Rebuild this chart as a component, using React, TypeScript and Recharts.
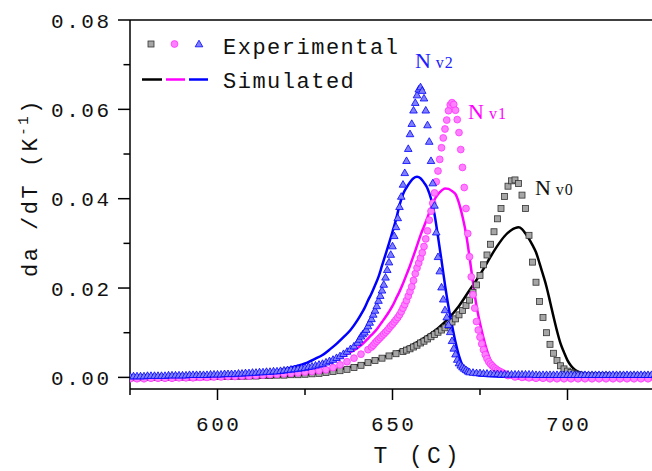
import { ComposedChart, Line, Scatter, XAxis, YAxis, ReferenceLine, ReferenceDot } from 'recharts';

type Pt = [number, number];

// experimental points, T (C) vs da/dT (K^-1)
const nv0Exp: Pt[] = [
  [575, -0.0001], [577, -0.0001], [579, 0], [581, 0], [583, 0], [585, 0], [587, 0.0001], [589, 0.0001],
  [591, 0.0001], [593, 0.0001], [595, 0.0002], [597, 0.0002], [599, 0.0002], [601, 0.0002], [603, 0.0002],
  [605, 0.0003], [607, 0.0003], [609, 0.0003], [611, 0.0003], [613, 0.0004], [615, 0.0004], [617, 0.0005],
  [619, 0.0005], [621, 0.0006], [623, 0.0006], [625, 0.0007], [627, 0.0008], [629, 0.0009], [631, 0.0011],
  [633, 0.0013], [635, 0.0015], [637, 0.0018], [639, 0.0022], [641, 0.0027], [643, 0.0033], [645, 0.0038],
  [647, 0.0043], [649, 0.0048], [651, 0.0053], [653, 0.0058],
  [654, 0.0061], [655, 0.0064], [656, 0.0068], [657, 0.0072], [658, 0.0077], [659, 0.0081], [660, 0.0086],
  [661, 0.0091], [662, 0.0096], [663, 0.0101], [664, 0.0106], [665, 0.0111], [666, 0.0117], [667, 0.0124],
  [668, 0.0131], [669, 0.014], [670, 0.015], [671, 0.0161], [672, 0.0173], [673, 0.019], [674, 0.0207],
  [675, 0.0228], [676, 0.0252], [677, 0.0274], [678, 0.0298], [679, 0.0326], [680, 0.0355], [681, 0.0378],
  [682, 0.0405], [683, 0.0428], [684, 0.044], [685, 0.0442], [686, 0.0434], [687, 0.0408], [688, 0.0378],
  [689, 0.0318], [690, 0.0258], [691, 0.0213], [692, 0.017], [693, 0.0134], [694, 0.01], [695, 0.0074],
  [696, 0.0054], [697, 0.0038], [698, 0.0026], [699, 0.0019], [700, 0.0014], [701, 0.0011], [702, 0.0008],
  [703, 0.0006], [704, 0.0005], [705, 0.0004],
  [707, 0.0004], [709, 0.0004], [711, 0.0004], [713, 0.0003], [715, 0.0003], [717, 0.0003], [719, 0.0003],
  [721, 0.0003], [723, 0.0003], [725, 0.0003],
];

const nv1Exp: Pt[] = [
  [575, -0.0003], [577, -0.0003], [579, -0.0003], [581, -0.0002], [583, -0.0002], [585, -0.0002],
  [587, -0.0002], [589, -0.0001], [591, -0.0001], [593, -0.0001], [595, 0], [597, 0], [599, 0.0001],
  [601, 0.0001], [603, 0.0002], [605, 0.0002], [607, 0.0003], [609, 0.0003], [611, 0.0004], [613, 0.0005],
  [615, 0.0006], [617, 0.0007], [619, 0.0008], [621, 0.0009], [623, 0.001], [625, 0.0012], [627, 0.0013],
  [629, 0.0015], [631, 0.0017], [633, 0.0022], [635, 0.0028], [637, 0.0035], [639, 0.0043], [641, 0.0052],
  [643, 0.0062],
  [644, 0.0068], [644.5, 0.0072], [645, 0.0077], [645.5, 0.0081], [646, 0.0085], [646.5, 0.0089],
  [647, 0.0093], [647.5, 0.0097], [648, 0.0101], [648.5, 0.0105], [649, 0.011], [649.5, 0.0115],
  [650, 0.0119], [650.5, 0.0124], [651, 0.0129], [651.5, 0.0134], [652, 0.014], [652.5, 0.0147],
  [653, 0.0155], [653.5, 0.0163], [654, 0.0172], [654.5, 0.0182], [655, 0.0192], [655.5, 0.0203],
  [656, 0.0217], [656.5, 0.0232], [657, 0.0245], [657.5, 0.0256], [658, 0.0267], [658.5, 0.0279],
  [659, 0.0293], [659.5, 0.031], [660, 0.0328], [660.5, 0.0352], [661, 0.0372], [661.5, 0.039],
  [662, 0.0413], [662.5, 0.0438], [663, 0.0462], [663.5, 0.0488], [664, 0.0514], [664.5, 0.0536],
  [665, 0.0556], [665.5, 0.0576], [666, 0.0597], [666.5, 0.061], [667, 0.0615], [667.5, 0.0611],
  [668, 0.0598], [668.5, 0.0577], [669, 0.0548], [669.5, 0.051], [670, 0.047], [670.5, 0.0425],
  [671, 0.0378], [671.5, 0.0322], [672, 0.027], [672.5, 0.0225], [673, 0.0185], [673.5, 0.0155],
  [674, 0.0125], [674.5, 0.0106], [675, 0.009], [675.5, 0.0075], [676, 0.0062], [676.5, 0.0051],
  [677, 0.0042], [677.5, 0.0035], [678, 0.003], [678.5, 0.0026], [679, 0.0022], [679.5, 0.0019],
  [680, 0.0016], [680.5, 0.0014], [681, 0.0012], [681.5, 0.001], [682, 0.0008], [682.5, 0.0006],
  [683, 0.0004],
  [685, 0.0001], [687, 0], [689, -0.0001], [691, -0.0002], [693, -0.0002], [695, -0.0003], [697, -0.0003],
  [699, -0.0003], [701, -0.0003], [703, -0.0003], [705, -0.0003], [707, -0.0003], [709, -0.0003],
  [711, -0.0003], [713, -0.0003], [715, -0.0003], [717, -0.0003], [719, -0.0003], [721, -0.0003],
  [723, -0.0003], [725, -0.0003],
];

const nv2Exp: Pt[] = [
  [575, 0.0003], [576, 0.0003], [577, 0.0003], [578, 0.0003], [579, 0.0003], [580, 0.0004], [581, 0.0004],
  [582, 0.0004], [583, 0.0004], [584, 0.0004], [585, 0.0004], [586, 0.0005], [587, 0.0005], [588, 0.0005],
  [589, 0.0005], [590, 0.0005], [591, 0.0005], [592, 0.0006], [593, 0.0006], [594, 0.0006], [595, 0.0006],
  [596, 0.0006], [597, 0.0006], [598, 0.0007], [599, 0.0007], [600, 0.0007], [601, 0.0007], [602, 0.0008],
  [603, 0.0008], [604, 0.0008], [605, 0.0008], [606, 0.0009], [607, 0.0009], [608, 0.001], [609, 0.001],
  [610, 0.0011], [611, 0.0011], [612, 0.0012], [613, 0.0012], [614, 0.0013], [615, 0.0013], [616, 0.0014],
  [617, 0.0014], [618, 0.0015], [619, 0.0016], [620, 0.0017], [621, 0.0018], [622, 0.0019], [623, 0.002],
  [624, 0.0021], [625, 0.0022], [626, 0.0024], [627, 0.0025], [628, 0.0027], [629, 0.0029], [630, 0.0031],
  [631, 0.0034], [632, 0.0037], [633, 0.004], [634, 0.0044], [635, 0.0048], [636, 0.0053], [637, 0.0058],
  [638, 0.0064], [639, 0.007],
  [640, 0.0078], [640.5, 0.0085], [641, 0.0092], [641.5, 0.0097], [642, 0.0101], [642.5, 0.0107],
  [643, 0.0115], [643.5, 0.0123], [644, 0.0131], [644.5, 0.0141], [645, 0.015], [645.5, 0.016],
  [646, 0.0172], [646.5, 0.0183], [647, 0.0195], [647.5, 0.0208], [648, 0.0224], [648.5, 0.0241],
  [649, 0.0258], [649.5, 0.0275], [650, 0.0294], [650.5, 0.0317], [651, 0.0337], [651.5, 0.0357],
  [652, 0.0382], [652.5, 0.0405], [653, 0.0432], [653.5, 0.0458], [654, 0.0485], [654.5, 0.0512],
  [655, 0.0545], [655.5, 0.0568], [656, 0.0598], [656.5, 0.0615], [657, 0.0632], [657.5, 0.0645],
  [658, 0.065], [658.5, 0.0642], [659, 0.0625], [659.5, 0.0598], [660, 0.0565], [660.5, 0.0528],
  [661, 0.0485], [661.5, 0.0435], [662, 0.0385], [662.5, 0.0325], [663, 0.027], [663.5, 0.0238],
  [664, 0.0202], [664.5, 0.0175], [665, 0.0151], [665.5, 0.0135], [666, 0.0118], [666.5, 0.0102],
  [667, 0.0082], [667.5, 0.0065], [668, 0.0052], [668.5, 0.004], [669, 0.0032], [669.5, 0.0027],
  [670, 0.0023], [670.5, 0.002], [671, 0.0017], [671.5, 0.0014], [672, 0.0012],
  [673, 0.0011], [674, 0.001], [675, 0.001], [676, 0.0009], [677, 0.0009], [678, 0.0008], [679, 0.0008],
  [680, 0.0008], [681, 0.0007], [682, 0.0007], [683, 0.0007], [684, 0.0007], [685, 0.0007], [686, 0.0007],
  [687, 0.0007], [688, 0.0007], [689, 0.0007], [690, 0.0007], [691, 0.0006], [692, 0.0006], [693, 0.0006],
  [694, 0.0006], [695, 0.0006], [696, 0.0006], [697, 0.0006], [698, 0.0006], [699, 0.0006], [700, 0.0006],
  [701, 0.0006], [702, 0.0006], [703, 0.0006], [704, 0.0006], [705, 0.0006], [706, 0.0006], [707, 0.0006],
  [708, 0.0006], [709, 0.0006], [710, 0.0006], [711, 0.0006], [712, 0.0006], [713, 0.0006], [714, 0.0006],
  [715, 0.0006], [716, 0.0006], [717, 0.0006], [718, 0.0006], [719, 0.0006], [720, 0.0006], [721, 0.0006],
  [722, 0.0006], [723, 0.0006], [724, 0.0006], [725, 0.0006],
];

// simulated curves
const nv0Sim: Pt[] = [
  [575, -0.0002], [585, -0.0002], [595, -0.0002], [605, -0.0002], [610, -0.0001], [615, 0.0001],
  [620, 0.0003], [625, 0.0006], [630, 0.0011], [635, 0.0018], [640, 0.0027], [645, 0.0038], [650, 0.0053],
  [655, 0.007], [660, 0.0093], [663, 0.011], [666, 0.0132], [669, 0.016], [672, 0.0195], [674, 0.0218],
  [676, 0.0243], [678, 0.027], [680, 0.0295], [682, 0.0316], [684, 0.033], [685, 0.0334], [686, 0.0336],
  [687, 0.0332], [688, 0.0322], [689, 0.031], [690, 0.0296], [691, 0.028], [692, 0.0256], [693, 0.023],
  [694, 0.0203], [695, 0.017], [696, 0.0136], [697, 0.0104], [698, 0.0076], [699, 0.0056], [700, 0.0038],
  [701, 0.0026], [702, 0.0018], [703, 0.0013], [704, 0.001], [705, 0.0006], [706, 0.0002], [708, -0.0002],
  [715, -0.0002], [725, -0.0002],
];

const nv1Sim: Pt[] = [
  [575, -0.0005], [585, -0.0005], [595, -0.0004], [600, -0.0003], [605, -0.0002], [610, 0], [615, 0.0003],
  [620, 0.0008], [625, 0.0015], [630, 0.0027], [634, 0.0039], [637, 0.0052], [640, 0.0066], [641, 0.0072],
  [642, 0.0079], [643, 0.0087], [644, 0.0095], [645, 0.0103], [646, 0.0113], [647, 0.0124], [648, 0.0135],
  [649, 0.0147], [650, 0.016], [651, 0.0176], [652, 0.0192], [653, 0.021], [654, 0.023], [655, 0.025],
  [656, 0.0272], [657, 0.0295], [658, 0.0318], [659, 0.0338], [660, 0.0358], [661, 0.038], [662, 0.0398],
  [663, 0.041], [664, 0.0418], [665, 0.0423], [666, 0.0422], [667, 0.0417], [668, 0.041], [669, 0.039],
  [670, 0.036], [671, 0.0322], [672, 0.027], [673, 0.0212], [674, 0.016], [675, 0.0121], [676, 0.0088],
  [677, 0.006], [678, 0.0038], [679, 0.0024], [680, 0.0015], [681, 0.001], [682, 0.0006], [683, 0.0002],
  [684, 0], [685, -0.0002], [690, -0.0004], [700, -0.0004], [710, -0.0004], [725, -0.0004],
];

const nv2Sim: Pt[] = [
  [575, 0.0001], [580, 0.0002], [585, 0.0002], [590, 0.0003], [595, 0.0003], [600, 0.0004], [605, 0.0005],
  [610, 0.0007], [615, 0.0012], [620, 0.002], [625, 0.0031], [628, 0.0042], [630, 0.005], [632, 0.0062],
  [634, 0.0075], [636, 0.009], [638, 0.0106], [640, 0.0128], [641, 0.0141], [642, 0.0155], [643, 0.0172],
  [644, 0.0188], [645, 0.0206], [646, 0.0225], [647, 0.025], [648, 0.0275], [649, 0.03], [650, 0.0326],
  [651, 0.0353], [652, 0.0385], [653, 0.041], [654, 0.0425], [655, 0.0437], [656, 0.0446], [657, 0.0449],
  [658, 0.0446], [659, 0.0436], [660, 0.0423], [661, 0.04], [662, 0.0365], [663, 0.0315], [664, 0.0262],
  [665, 0.0207], [666, 0.0158], [667, 0.0117], [668, 0.0079], [669, 0.0048], [670, 0.0027], [671, 0.0016],
  [672, 0.0011], [673, 0.0008], [674, 0.0006], [675, 0.0004], [680, 0.0002], [690, 0.0001], [700, 0.0001],
  [725, 0],
];

const xTicks = [575, 600, 625, 650, 675, 700, 725];
const xMajor = [600, 650, 700];
const yTicks = [0, 0.01, 0.02, 0.03, 0.04, 0.05, 0.06, 0.07, 0.08];
const yMajor = [0, 0.02, 0.04, 0.06, 0.08];

const CHART_W = 655;
const CHART_H = 471;
const MARGIN = { top: 20, right: 0, bottom: 0, left: 0 };
const Y_AXIS_W = 130;
const X_AXIS_H = 82;
const PLOT_LEFT = MARGIN.left + Y_AXIS_W;
const PLOT_BOTTOM = CHART_H - MARGIN.bottom - X_AXIS_H;

const MONO = '"Liberation Mono", "DejaVu Sans Mono", monospace';
const SERIF = '"Liberation Serif", "DejaVu Serif", serif';

const toRows = (pts: Pt[]) => pts.map(([T, v]) => ({ T, v }));

const Square = ({ cx, cy }: any) => (
  <rect x={cx - 3} y={cy - 3} width={6} height={6} fill="#a6a6a6" stroke="#333" strokeWidth={0.8} />
);
const Circle = ({ cx, cy }: any) => (
  <circle cx={cx} cy={cy} r={3.4} fill="#ff80ff" stroke="#ff33ff" strokeWidth={0.8} />
);
const Triangle = ({ cx, cy }: any) => (
  <path d={`M${cx},${cy - 3.8} L${cx + 3.8},${cy + 2.8} L${cx - 3.8},${cy + 2.8} Z`} fill="#8080ff" stroke="#0000ff" strokeWidth={0.8} />
);

function YTick({ y, payload }: any) {
  const major = yMajor.includes(payload.value);
  return (
    <g>
      <line x1={PLOT_LEFT - (major ? 12 : 6.5)} x2={PLOT_LEFT} y1={y} y2={y} stroke="#000" strokeWidth={1.5} />
      {major && (
        <text x={111.5} y={y + 7.5} textAnchor="end" fontFamily={MONO} fontSize={21} letterSpacing={2.5} fill="#111">
          {payload.value.toFixed(2)}
        </text>
      )}
    </g>
  );
}

function XTick({ x, payload }: any) {
  const major = xMajor.includes(payload.value);
  return (
    <g>
      <line x1={x} x2={x} y1={PLOT_BOTTOM} y2={PLOT_BOTTOM + (major ? 11 : 6)} stroke="#000" strokeWidth={1.5} />
      {major && (
        <text x={x + 1.2} y={PLOT_BOTTOM + 42} textAnchor="middle" fontFamily={MONO} fontSize={21} letterSpacing={2.5} fill="#111">
          {payload.value}
        </text>
      )}
    </g>
  );
}

const YLabel = () => (
  <text transform="translate(37,277) rotate(-90)" fontFamily={MONO} fontSize={22} letterSpacing={2.5} fill="#111">
    da /dT (K<tspan fontSize={14} dy={-9}>-1</tspan><tspan dy={9}>)</tspan>
  </text>
);

const XLabel = () => (
  <text x={418} y={463} textAnchor="middle" fontFamily={MONO} fontSize={23} letterSpacing={4} fill="#111">
    T (C)
  </text>
);

const curveLabel = (main: string, sub: string, color: string) => ({ cx, cy }: any) => (
  <text x={cx} y={cy} fontFamily={SERIF} fill={color}>
    <tspan fontSize={22}>{main}</tspan>
    <tspan fontSize={16} dx={5} letterSpacing={1}>{sub}</tspan>
  </text>
);

function LegendBox() {
  return (
    <svg width={440} height={100} style={{ position: 'absolute', left: 0, top: 0, pointerEvents: 'none' }}>
      <Square cx={151} cy={44} />
      <Circle cx={174.5} cy={44} />
      <Triangle cx={199} cy={44} />
      <text x={223} y={54} fontFamily={MONO} fontSize={22} letterSpacing={1.5} fill="#111">Experimental</text>
      <line x1={142} x2={162} y1={79.5} y2={79.5} stroke="#000" strokeWidth={2.5} />
      <line x1={166} x2={185} y1={79.5} y2={79.5} stroke="#ff00ff" strokeWidth={2.5} />
      <line x1={189} x2={208} y1={79.5} y2={79.5} stroke="#0000ff" strokeWidth={2.5} />
      <text x={223} y={88} fontFamily={MONO} fontSize={22} letterSpacing={1.5} fill="#111">Simulated</text>
    </svg>
  );
}

export default function App() {
  return (
    <div style={{ position: 'fixed', left: 0, top: 0, width: 652, height: 471, overflow: 'hidden', background: '#fff' }}>
      <ComposedChart width={CHART_W} height={CHART_H} margin={MARGIN}>
        <XAxis
          type="number"
          dataKey="T"
          domain={[575, 725]}
          ticks={xTicks}
          allowDataOverflow
          height={X_AXIS_H}
          tickLine={false}
          axisLine={{ stroke: '#000', strokeWidth: 1.5 }}
          tick={<XTick />}
          interval={0}
          label={<XLabel />}
        />
        <YAxis
          type="number"
          dataKey="v"
          domain={[-0.0026, 0.08]}
          ticks={yTicks}
          allowDataOverflow
          width={Y_AXIS_W}
          tickLine={false}
          axisLine={{ stroke: '#000', strokeWidth: 1.5 }}
          tick={<YTick />}
          interval={0}
          label={<YLabel />}
        />
        <ReferenceLine y={0.08} stroke="#000" strokeWidth={1.5} />
        <Scatter data={toRows(nv0Exp)} dataKey="v" shape={<Square />} isAnimationActive={false} />
        <Line data={toRows(nv0Sim)} dataKey="v" type="monotone" stroke="#000" strokeWidth={2.5} dot={false} isAnimationActive={false} />
        <Scatter data={toRows(nv1Exp)} dataKey="v" shape={<Circle />} isAnimationActive={false} />
        <Line data={toRows(nv1Sim)} dataKey="v" type="monotone" stroke="#ff00ff" strokeWidth={2.5} dot={false} isAnimationActive={false} />
        <Scatter data={toRows(nv2Exp)} dataKey="v" shape={<Triangle />} isAnimationActive={false} />
        <Line data={toRows(nv2Sim)} dataKey="v" type="monotone" stroke="#0000ff" strokeWidth={2.5} dot={false} isAnimationActive={false} />
        <ReferenceDot x={656.4} y={0.0693} r={0} shape={curveLabel('N', 'v2', '#2020ff')} />
        <ReferenceDot x={671.6} y={0.0578} r={0} shape={curveLabel('N', 'v1', '#ff00ff')} />
        <ReferenceDot x={690.7} y={0.0408} r={0} shape={curveLabel('N', 'v0', '#111')} />
      </ComposedChart>
      <LegendBox />
    </div>
  );
}
